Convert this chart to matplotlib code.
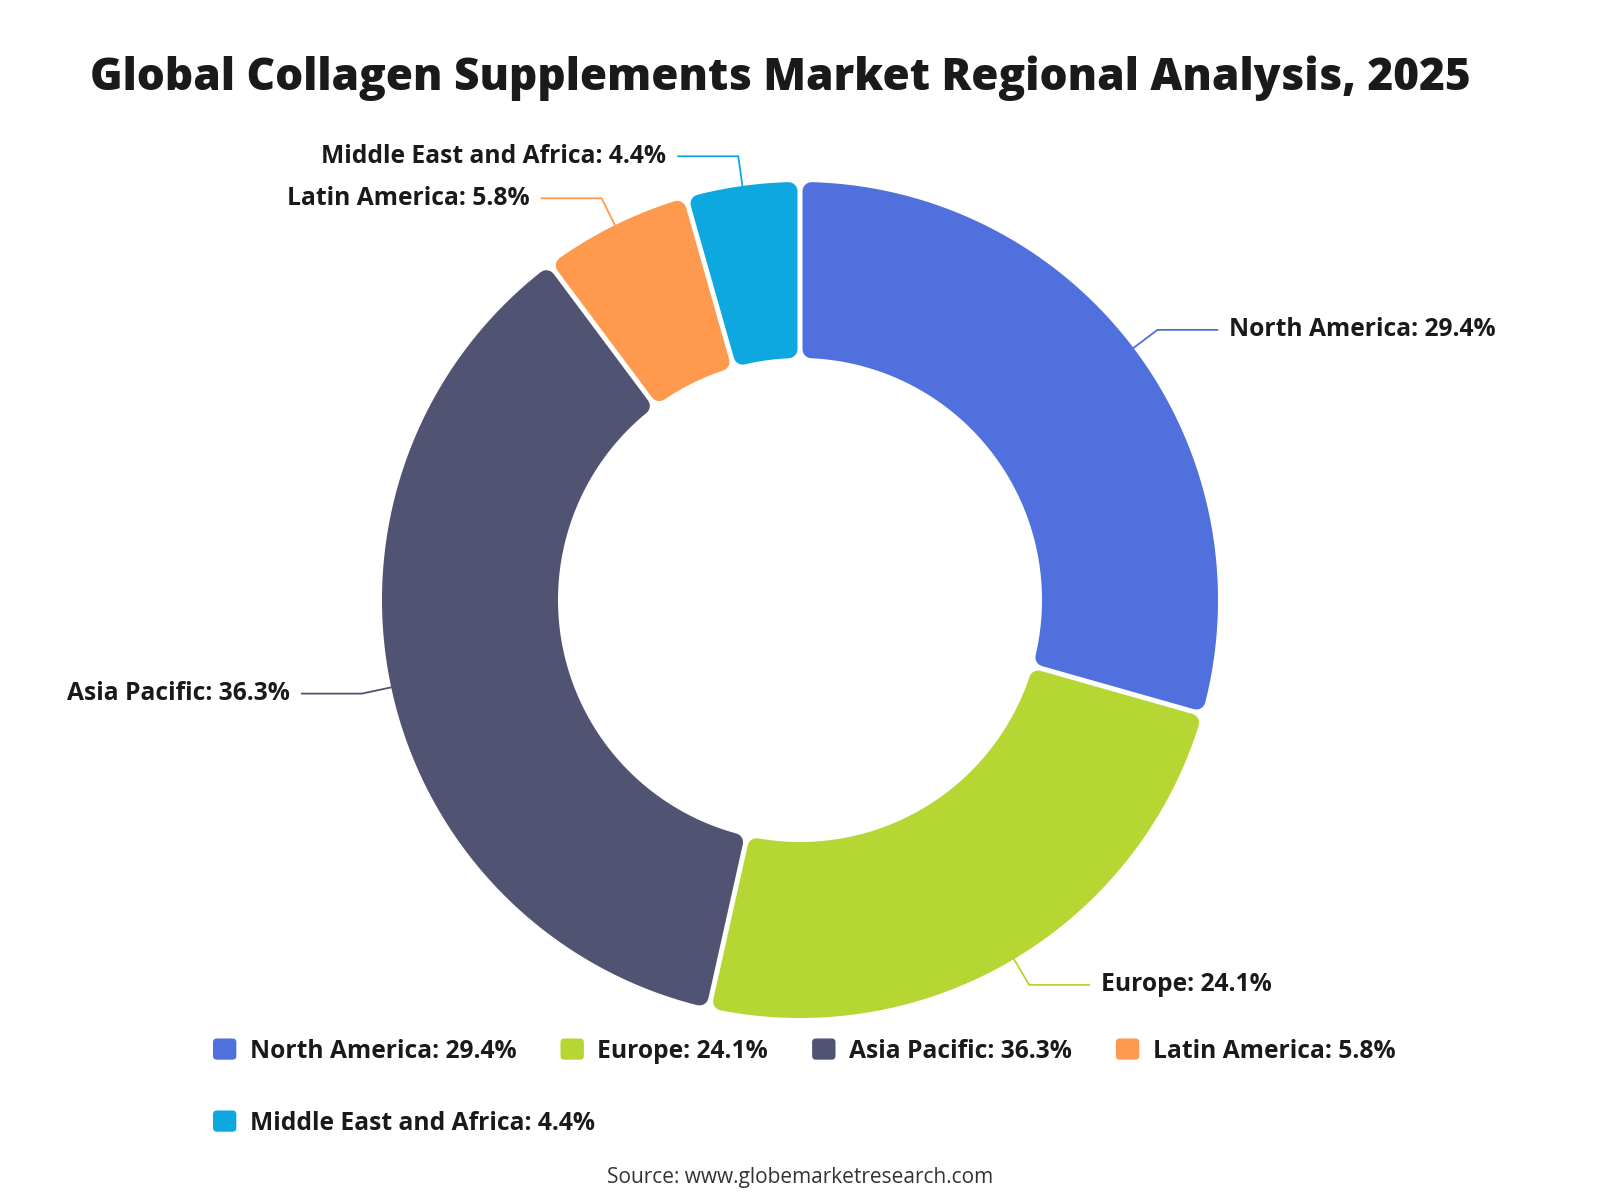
import numpy as np
import matplotlib
matplotlib.use("Agg")
import matplotlib.pyplot as plt
from matplotlib.path import Path
from matplotlib.patches import PathPatch, FancyBboxPatch, Patch
from matplotlib.legend_handler import HandlerPatch

# ---------------- data ----------------
regions = ["North America", "Europe", "Asia Pacific", "Latin America", "Middle East and Africa"]
shares = [29.4, 24.1, 36.3, 5.8, 4.4]
colors = ["#5070dd", "#b6d634", "#505372", "#ff994d", "#0ca8df"]
title = "Global Collagen Supplements Market Regional Analysis, 2025"
source = "Source: www.globemarketresearch.com"

plt.rcParams["font.family"] = ["Open Sans", "DejaVu Sans"]

W, H, DPI = 1600, 1200, 100
fig = plt.figure(figsize=(W / DPI, H / DPI), dpi=DPI)
ax = fig.add_axes([0, 0, 1, 1])

CX, CY = 800, 600
RO, RI = 418, 242
CORNER = 9      # corner rounding (px)
GAP = 5         # white gap between slices (px)

wedges, _ = ax.pie(shares, colors=colors, startangle=90, counterclock=False,
                   radius=RO, center=(CX, CY), wedgeprops=dict(width=RO - RI))
ax.set_xlim(0, W)
ax.set_ylim(0, H)
ax.set_aspect("equal")
ax.axis("off")


def rounded_sector(t1, t2, ro, ri, d, g):
    s = g / 2 + d
    ro2, ri2 = ro - d, ri + d
    ao1 = t1 + np.degrees(np.arcsin(s / ro2))
    ao2 = t2 - np.degrees(np.arcsin(s / ro2))
    ai1 = t1 + np.degrees(np.arcsin(s / ri2))
    ai2 = t2 - np.degrees(np.arcsin(s / ri2))
    outer = np.radians(np.linspace(ao1, ao2, 300))
    inner = np.radians(np.linspace(ai2, ai1, 300))
    xs = np.concatenate([CX + ro2 * np.cos(outer), CX + ri2 * np.cos(inner)])
    ys = np.concatenate([CY + ro2 * np.sin(outer), CY + ri2 * np.sin(inner)])
    verts = list(zip(xs, ys)) + [(xs[0], ys[0])]
    codes = [Path.MOVETO] + [Path.LINETO] * (len(xs) - 1) + [Path.CLOSEPOLY]
    return Path(verts, codes)


lw_pt = 2 * CORNER * 72 / DPI
L1, L2, TPAD = 30, 60, 12
label_fs = 17.7
for w, name, val, c in zip(wedges, regions, shares, colors):
    w.set_visible(False)
    path = rounded_sector(w.theta1, w.theta2, RO, RI, CORNER, GAP)
    ax.add_patch(PathPatch(path, facecolor=c, edgecolor=c, lw=lw_pt,
                           joinstyle="round", zorder=2))
    mid = np.radians((w.theta1 + w.theta2) / 2)
    p0 = (CX + RO * np.cos(mid), CY + RO * np.sin(mid))
    p1 = (CX + (RO + L1) * np.cos(mid), CY + (RO + L1) * np.sin(mid))
    side = 1 if np.cos(mid) >= 0 else -1
    p2 = (p1[0] + side * L2, p1[1])
    ax.plot([p0[0], p1[0], p2[0]], [p0[1], p1[1], p2[1]], color=c, lw=1.3,
            solid_joinstyle="miter", zorder=1)
    ax.text(p2[0] + side * TPAD, p2[1], f"{name}: {val}%",
            ha="left" if side > 0 else "right", va="center",
            fontsize=label_fs, fontweight="bold", color="#1a1a1a")

ax.text(780, 1110, title, ha="center", va="baseline", fontsize=31.8,
        fontweight="heavy", color="#1a1a1a")
ax.text(800, 23, source, ha="center", va="center", fontsize=15, color="#333333")


# ---------------- legend ----------------
def round_box(legend, orig_handle, xdescent, ydescent, width, height, fontsize):
    r = 0.18 * height
    return FancyBboxPatch((-xdescent + r, -ydescent + r), width - 2 * r, height - 2 * r,
                          boxstyle=f"round,pad={r}")


handles = [Patch(facecolor=c, edgecolor="none") for c in colors]
labels = [f"{n}: {v}%" for n, v in zip(regions, shares)]
common = dict(frameon=False, handlelength=0.95, handleheight=0.95,
              handletextpad=0.54, columnspacing=1.8, borderpad=0, borderaxespad=0,
              loc="center left", handler_map={Patch: HandlerPatch(patch_func=round_box)},
              prop={"weight": "bold", "size": label_fs})
leg1 = ax.legend(handles[:4], labels[:4], ncol=4, bbox_to_anchor=(213 / W, 149 / H), **common)
for t in leg1.get_texts():
    t.set_color("#1a1a1a")
ax.add_artist(leg1)
leg2 = ax.legend(handles[4:], labels[4:], ncol=1, bbox_to_anchor=(213 / W, 77 / H), **common)
for t in leg2.get_texts():
    t.set_color("#1a1a1a")

fig.savefig("out.png", dpi=DPI)
